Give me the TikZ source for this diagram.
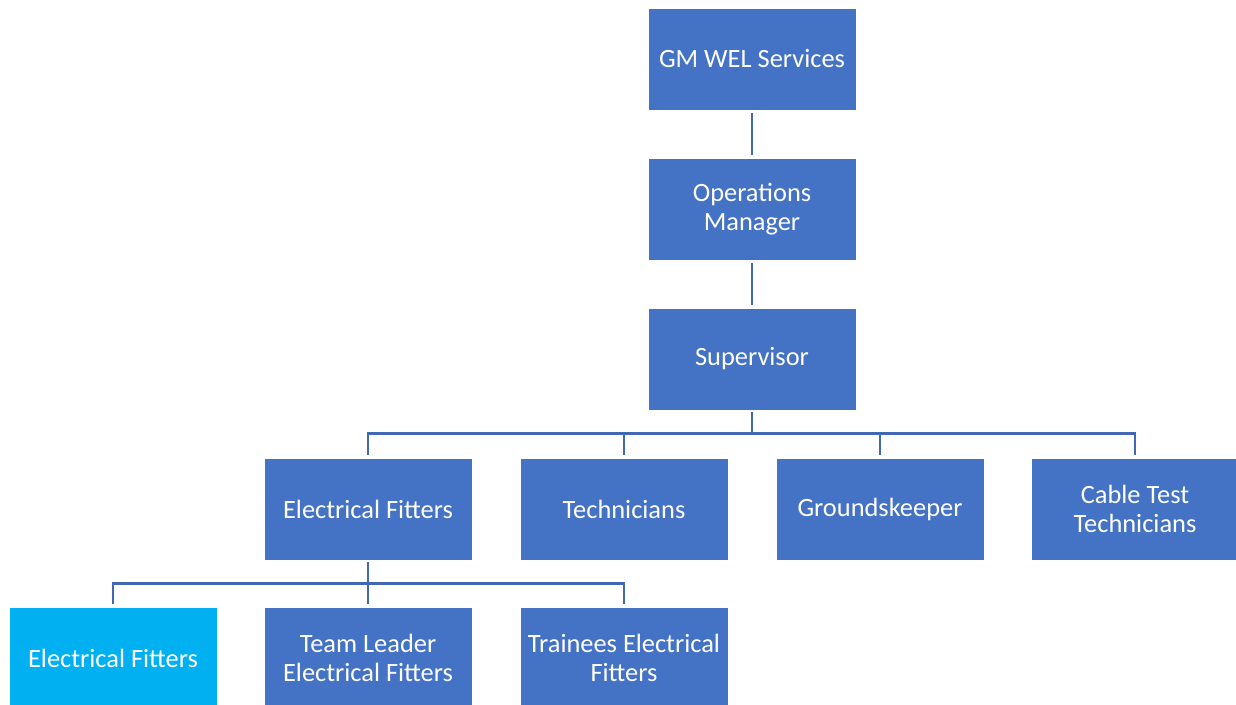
\documentclass[tikz,border=0pt]{standalone}
\usepackage{fontspec}
\setmainfont{Carlito}
\definecolor{boxblue}{HTML}{4472C4}
\definecolor{boxcyan}{HTML}{00B0F0}
\definecolor{lineblue}{RGB}{65,104,180}
\begin{document}
\begin{tikzpicture}[x=1pt,y=-1pt,
  orgbox/.style={rectangle, fill=boxblue, draw=white, line width=0.6pt, minimum width=208pt, minimum height=102pt, inner sep=0pt, text=white, align=center, font=\fontsize{26.4}{29}\selectfont},
  conn/.style={draw=lineblue, line width=2.6pt}]
\useasboundingbox (0,0) rectangle (1236,704);
\node[orgbox] (gm) at (752,59) {GM WEL Services};
\node[orgbox] (ops) at (752,209) {Operations\\Manager};
\node[orgbox] (sup) at (752,359) {Supervisor};
\node[orgbox] (ef) at (368,509) {Electrical Fitters};
\node[orgbox] (tech) at (624,509) {Technicians};
\node[orgbox] (gk) at (880,509) {Groundskeeper};
\node[orgbox] (ctt) at (1135,509) {Cable Test\\Technicians};
\node[orgbox, fill=boxcyan] (efc) at (113,658) {Electrical Fitters};
\node[orgbox] (tl) at (368,658) {Team Leader\\Electrical Fitters};
\node[orgbox] (tr) at (624,658) {Trainees Electrical\\Fitters};
\draw[conn] ([yshift=-3pt]gm.south) -- ([yshift=3pt]ops.north);
\draw[conn] ([yshift=-3pt]ops.south) -- ([yshift=3pt]sup.north);
\foreach \c in {ef,tech,gk,ctt}
  \draw[conn] ([yshift=-2pt]sup.south) -- ([yshift=-23pt]sup.south) -| ([yshift=3pt]\c.north);
\foreach \c in {efc,tl,tr}
  \draw[conn] ([yshift=-2pt]ef.south) -- ([yshift=-23pt]ef.south) -| ([yshift=3pt]\c.north);
\end{tikzpicture}
\end{document}
